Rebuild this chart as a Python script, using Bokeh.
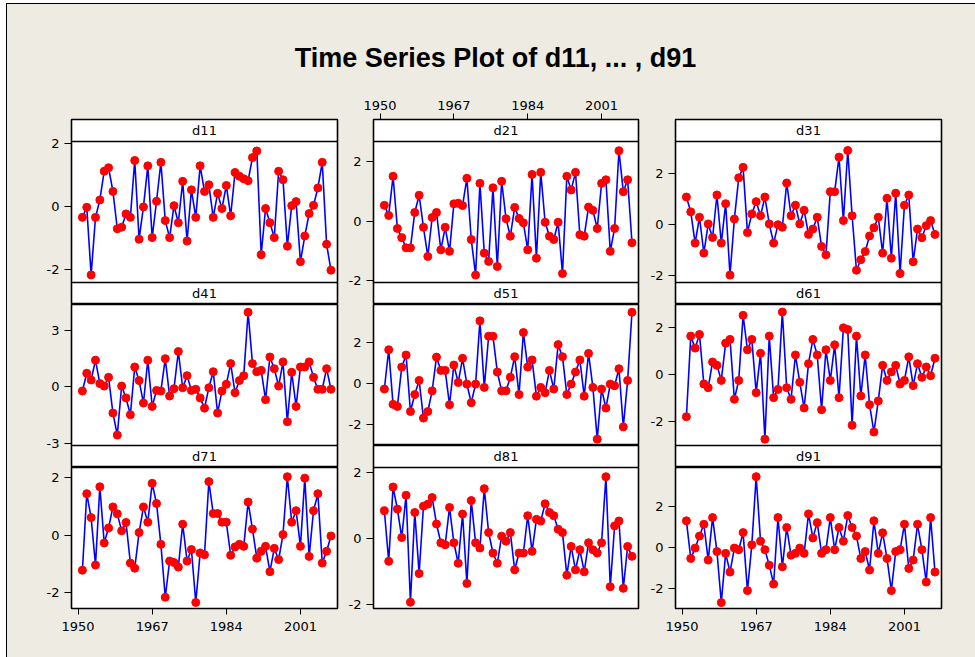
from bokeh.plotting import figure
from bokeh.layouts import row, column
from bokeh.models import Range1d, FixedTicker, Span, Label
from bokeh.embed import file_html
from bokeh.resources import INLINE

# ---------------- data ----------------
years = list(range(1951, 2009))
x_ticks = [1950, 1967, 1984, 2001]

d11 = [-0.35, -0.03, -2.17, -0.35, 0.20, 1.11, 1.22, 0.47, -0.71, -0.66,
       -0.24, -0.35, 1.45, -1.04, -0.02, 1.28, -0.99, 0.16, 1.39, -0.45,
       -0.99, 0.02, -0.52, 0.79, -1.10, 0.52, -0.35, 1.28, 0.47, 0.68,
       -0.35, 0.41, -0.07, 0.66, -0.30, 1.07, 0.95, 0.87, 0.81, 1.54,
       1.75, -1.53, -0.07, -0.52, -0.99, 1.11, 0.84, -1.26, 0.02, 0.15,
       -1.75, -0.94, -0.23, 0.03, 0.58, 1.39, -1.20, -2.02]
d21 = [0.54, 0.20, 1.52, -0.24, -0.55, -0.89, -0.89, 0.30, 0.88, -0.20,
       -1.18, 0.13, 0.30, -0.96, -0.20, -1.01, 0.59, 0.61, 0.53, 1.45,
       -0.61, -1.81, 1.28, -1.07, -1.35, 1.13, -1.52, 1.35, 0.09, -0.50,
       0.47, 0.10, -0.05, -0.96, 1.58, -1.24, 1.65, -0.03, -0.50, -0.61,
       -0.03, -1.76, 1.52, 1.06, 1.65, -0.45, -0.50, 0.48, 0.37, -0.24,
       1.28, 1.40, -1.01, -0.24, 2.38, 1.00, 1.40, -0.72]
d31 = [1.08, 0.50, -0.72, 0.29, -1.11, 0.03, -0.50, 1.16, -0.72, 0.82,
       -1.97, 0.22, 1.83, 2.24, -0.31, 0.42, 0.90, 0.35, 1.08, 0.03,
       -0.72, 0.00, -0.10, 1.63, 0.35, 0.76, 0.03, 0.56, -0.38, -0.17,
       0.29, -0.85, -1.18, 1.29, 1.29, 2.64, 0.16, 2.90, 0.35, -1.78,
       -1.37, -1.05, -0.44, -0.12, 0.29, -1.11, 1.03, -1.31, 1.23, -1.91,
       0.76, 1.16, -1.45, -0.17, -0.51, -0.04, 0.16, -0.38]
d41 = [-0.21, 0.73, 0.37, 1.42, 0.18, 0.05, 0.51, -1.38, -2.55, 0.05,
       -0.58, -1.47, 1.06, 0.34, -0.85, 1.42, -1.03, -0.18, -0.21, 1.50,
       -0.48, -0.09, 1.88, -0.04, 0.60, -0.18, -0.12, -0.58, -1.12, -0.04,
       0.81, -1.38, -0.21, 0.14, 1.24, -0.30, 0.34, 0.60, 3.96, 1.24,
       0.81, 0.88, -0.67, 1.59, 0.97, 0.05, 1.33, -1.84, 0.78, -1.03,
       1.06, 1.06, 1.33, 0.51, -0.12, -0.12, 0.97, -0.12]
d51 = [-0.29, 1.63, -1.04, -1.14, 0.78, 1.37, -1.39, -0.56, 0.13, -1.71,
       -1.39, -0.38, 1.27, 0.62, 0.62, -1.06, 0.88, 0.03, 1.21, -0.05,
       -0.96, -0.05, 3.04, -0.21, 2.29, 2.29, 0.54, -0.38, -0.38, 0.29,
       1.29, -0.56, 2.47, 0.78, 1.13, -0.64, -0.21, -0.47, 0.62, -0.29,
       1.88, 1.29, -0.56, -0.05, 0.54, 1.13, -0.64, 1.45, -0.21, -2.74,
       -0.29, -1.22, -0.05, -0.13, 0.70, -2.14, 0.13, 3.46]
d61 = [-1.80, 1.62, 1.11, 1.69, -0.41, -0.57, 0.52, 0.38, -0.26, 1.32,
       1.48, -1.06, -0.26, 2.50, 1.04, 1.48, -0.78, 0.89, -2.75, 1.62,
       -0.99, -0.64, 2.64, -0.57, -1.06, 0.82, -0.34, -1.43, 0.45, 1.48,
       0.82, -1.50, 1.04, -0.26, 1.25, -0.99, 1.97, 1.90, -2.16, 1.62,
       -0.92, 0.82, -1.29, -2.45, -1.13, 0.38, -0.26, 0.10, 0.38, -0.41,
       -0.26, 0.74, -0.48, 0.45, -0.13, 0.31, -0.06, 0.68]
d71 = [-1.22, 1.44, 0.61, -1.04, 1.68, -0.27, 0.25, 0.98, 0.74, 0.15,
       0.44, -0.97, -1.15, 0.09, 0.98, 0.45, 1.80, 1.10, -0.32, -2.16,
       -0.90, -0.95, -1.11, 0.38, -0.90, -0.50, -2.34, -0.62, -0.68, 1.86,
       0.75, 0.75, 0.45, 0.45, -0.70, -0.41, -0.32, -0.39, 1.15, 0.21,
       -0.80, -0.56, -0.39, -1.27, -0.46, -0.85, 0.02, 2.03, 0.45, 0.85,
       -0.39, 1.98, -0.74, 0.85, 1.44, -0.97, -0.56, -0.03]
d81 = [0.84, -0.69, 1.56, 0.89, 0.03, 1.31, -1.93, 0.79, -1.06, 0.98,
       1.04, 1.24, 0.44, -0.13, -0.19, 0.94, -0.13, -0.75, 0.74, -1.36,
       1.15, -0.13, -0.29, 1.51, 0.18, -0.44, -0.75, 0.07, -0.08, 0.18,
       -0.95, -0.44, -0.44, 0.69, -0.39, 0.58, 0.53, 1.05, 0.79, 0.69,
       0.28, 0.18, -1.11, -0.24, -0.95, -0.34, -1.01, -0.13, -0.34, -0.44,
       -0.13, 1.87, -1.46, 0.38, 0.53, -1.51, -0.24, -0.54]
d91 = [1.31, -0.54, -0.03, 0.56, 1.14, -0.62, 1.47, -0.20, -2.71, -0.29,
       -1.21, -0.03, -0.11, 0.73, -2.12, 0.13, 3.48, 0.31, -0.11, -0.87,
       -1.80, 1.47, -0.95, 0.98, -0.38, -0.29, -0.03, -0.29, 1.65, 0.47,
       1.22, -0.29, -0.11, 1.47, -0.11, 0.98, 0.31, 1.57, 0.98, 0.56,
       -0.54, -0.20, -1.11, 1.31, -0.29, 0.72, -0.54, -2.12, -0.20, -0.11,
       1.14, -1.03, -0.62, 1.14, -0.11, -1.70, 1.47, -1.21]

series = {"d11": d11, "d21": d21, "d31": d31,
          "d41": d41, "d51": d51, "d61": d61,
          "d71": d71, "d81": d81, "d91": d91}
panel_grid = [["d11", "d41", "d71"],   # column 1 (top to bottom)
              ["d21", "d51", "d81"],   # column 2
              ["d31", "d61", "d91"]]   # column 3
y_ticks = {k: [-2, 0, 2] for k in series}
y_ticks["d41"] = [-3, 0, 3]

# axis limits of each panel's plotting area
y_limits = {"d11": (-2.41, 2.05), "d21": (-2.06, 2.69), "d31": (-2.26, 3.25),
            "d41": (-3.10, 4.37), "d51": (-3.05, 3.84), "d61": (-3.02, 2.96),
            "d71": (-2.55, 2.35), "d81": (-2.12, 2.15), "d91": (-3.00, 3.93)}
x_limits = (1948.5, 2009.5)

TITLE = "Time Series Plot of d11, ... , d91"

# ---------------- styles / layout ----------------
BG = "#EEEBE2"
FONT = "DejaVu Sans"
HDR = 22      # strip header height (px)
PLOT = 141    # plotting area height (px)
col_width = [333, 305, 330]
col_left = [64, 33, 30]
col_frame = [266, 265, 266]
x_axis_place = [("below", 2), ("above", 0), ("below", 2)]  # (location, level)
hdr3_with_upper = [True, False, True]   # where the 3rd strip header is drawn


def base_fig(width, height, left, right, top, bottom, x_loc):
    p = figure(width=width, height=height, output_backend="svg",
               toolbar_location=None, x_axis_location=x_loc,
               y_axis_location="left",
               min_border_left=left, min_border_right=right,
               min_border_top=top, min_border_bottom=bottom)
    p.border_fill_color = BG
    p.background_fill_color = "white"
    p.outline_line_color = "black"
    p.outline_line_width = 1.6
    p.xgrid.visible = False
    p.ygrid.visible = False
    p.x_range = Range1d(*x_limits)
    return p


def style_axes(p, ticks):
    for ax in p.yaxis:
        ax.ticker = FixedTicker(ticks=ticks)
        ax.major_label_overrides = {t: str(t) for t in ticks}
        ax.minor_tick_line_color = None
        ax.major_tick_in = 0
        ax.major_tick_out = 7
        ax.major_label_standoff = 5
        ax.axis_line_color = "black"
        ax.major_label_text_font = FONT
        ax.major_label_text_font_size = "13px"
        ax.major_label_text_color = "black"
    for ax in p.xaxis:
        ax.ticker = FixedTicker(ticks=x_ticks)
        ax.major_label_overrides = {t: str(t) for t in x_ticks}
        ax.minor_tick_line_color = None
        ax.major_tick_in = 0
        ax.major_tick_out = 6
        ax.axis_line_color = "black"
        ax.major_label_text_font = FONT
        ax.major_label_text_font_size = "13px"
        ax.major_label_text_color = "black"


def header(p, name, ymid):
    p.add_layout(Label(x=(x_limits[0] + x_limits[1]) / 2, y=ymid, text=name,
                       text_align="center", text_baseline="middle",
                       text_font=FONT, text_font_size="13px",
                       text_color="black"))


def sep(p, loc):
    p.add_layout(Span(location=loc, dimension="width", line_color="black",
                      line_width=1.3))


def draw_series(p, name):
    vals = series[name]
    p.line(years, vals, line_color="#0000FF", line_width=1.6)
    p.scatter(years, vals, size=8, fill_color="#FF0000", line_color="#FF0000",
              marker="circle")


columns = []
for c in range(3):
    names = panel_grid[c]
    w, l, fw = col_width[c], col_left[c], col_frame[c]
    r = w - l - fw
    loc, lvl = x_axis_place[c]
    up = hdr3_with_upper[c]
    figs = []
    # level 0: header(r1) + plot(r1) + header(r2)
    lo, hi = y_limits[names[0]]
    k = (hi - lo) / PLOT
    p = base_fig(w, 214, l, r, 29, 0, loc if lvl == 0 else None)
    p.y_range = Range1d(lo - HDR * k, hi + HDR * k)
    draw_series(p, names[0])
    sep(p, hi)
    sep(p, lo)
    header(p, names[0], hi + HDR * k / 2)
    header(p, names[1], lo - HDR * k / 2)
    style_axes(p, y_ticks[names[0]])
    if lvl == 0:
        for ax in p.xaxis:
            ax.major_label_standoff = 4
    figs.append(p)
    # level 1: plot(r2) [+ header(r3)]
    lo, hi = y_limits[names[1]]
    k = (hi - lo) / PLOT
    p = base_fig(w, PLOT + (HDR if up else 0), l, r, 0, 0,
                 loc if lvl == 1 else None)
    p.y_range = Range1d(lo - (HDR * k if up else 0), hi)
    draw_series(p, names[1])
    if up:
        sep(p, lo)
        header(p, names[2], lo - HDR * k / 2)
    style_axes(p, y_ticks[names[1]])
    figs.append(p)
    # level 2: [header(r3) +] plot(r3)
    lo, hi = y_limits[names[2]]
    k = (hi - lo) / PLOT
    p = base_fig(w, 49 + PLOT + (0 if up else HDR), l, r, 0, 49,
                 loc if lvl == 2 else None)
    p.y_range = Range1d(lo, hi + (0 if up else HDR * k))
    draw_series(p, names[2])
    if not up:
        sep(p, hi)
        header(p, names[2], hi + HDR * k / 2)
    style_axes(p, y_ticks[names[2]])
    if lvl == 2:
        for ax in p.xaxis:
            ax.major_label_standoff = 7
    figs.append(p)
    columns.append(column(*figs, spacing=0, styles={"background-color": BG}))

# title strip
tw, th = sum(col_width), 86
tp = figure(width=tw, height=th, output_backend="svg", toolbar_location=None,
            x_range=Range1d(0, tw), y_range=Range1d(0, th),
            min_border_left=0, min_border_right=0, min_border_top=0,
            min_border_bottom=0, x_axis_location=None, y_axis_location=None)
tp.border_fill_color = BG
tp.background_fill_color = BG
tp.outline_line_color = None
tp.xgrid.visible = False
tp.ygrid.visible = False
tp.add_layout(Label(x=488, y=33, text=TITLE, text_align="center",
                    text_baseline="middle", text_font="Liberation Sans",
                    text_font_style="bold", text_font_size="27px",
                    text_color="black"))

root = column(tp, row(*columns, spacing=0, styles={"background-color": BG}),
              spacing=0,
              styles={"margin-left": "6px", "margin-top": "3px",
                      "border-left": "1px solid black",
                      "border-top": "1px solid black",
                      "background-color": BG})

open("out.html", "w").write(file_html(root, INLINE))
